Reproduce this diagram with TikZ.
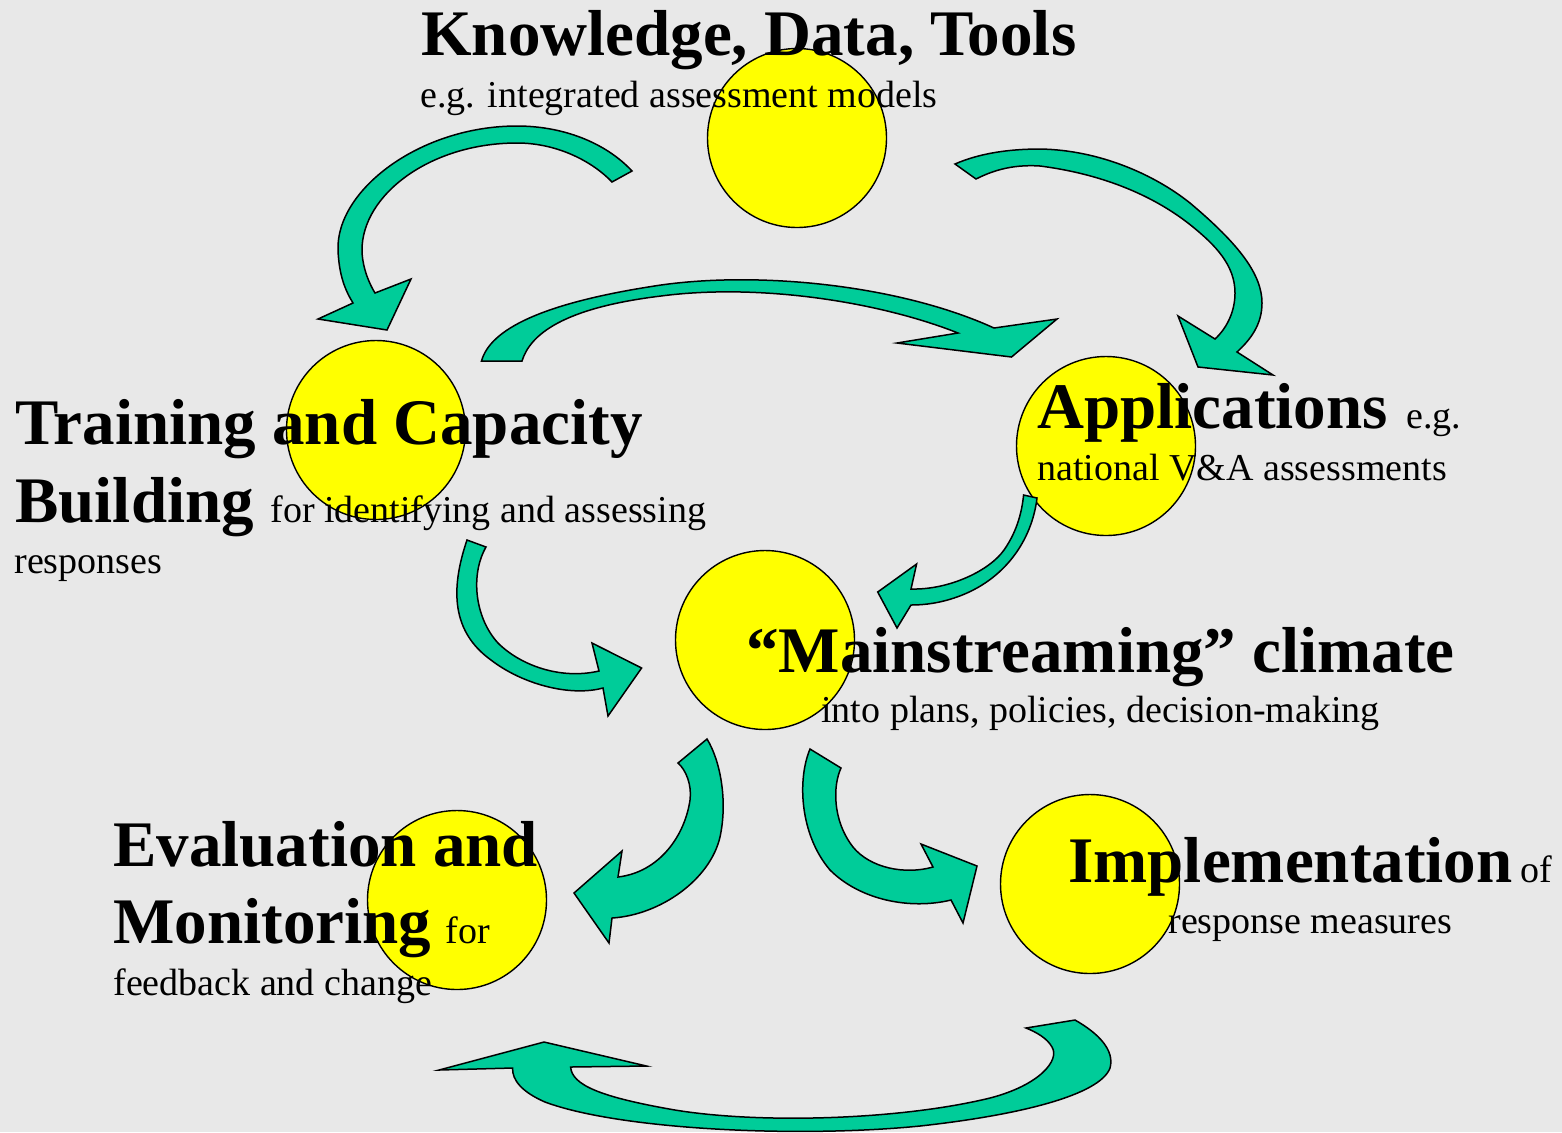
\documentclass[tikz,border=0pt]{standalone}
\usepackage{fontspec}
\setmainfont{Liberation Serif}
\definecolor{bgc}{HTML}{E8E8E8}
\definecolor{arrg}{HTML}{00CC99}
\definecolor{ball}{HTML}{FFFF00}
\tikzset{
  ballnode/.style={circle, draw=black, fill=ball, line width=0.7pt, minimum size=89.5pt, inner sep=0pt},
  blockarrow/.style={draw=black, fill=arrg, line width=0.75pt, line join=miter},
  bigtxt/.style={anchor=base west, inner sep=0pt, font=\fontsize{32.5}{39}\selectfont\bfseries},
  smalltxt/.style={anchor=base west, inner sep=0pt, font=\fontsize{19}{23}\selectfont},
}
\begin{document}
\begin{tikzpicture}[x=0.5pt, y=-0.5pt]
\useasboundingbox (0,0) rectangle (1562,1132);
\clip (0,0) rectangle (1562,1132);
\fill[bgc] (0,0) rectangle (1562,1132);

% circles
\node[ballnode] (know) at (797,138) {};
\node[ballnode] (train) at (376,430) {};
\node[ballnode] (appl) at (1106,446) {};
\node[ballnode] (main) at (765,640) {};
\node[ballnode] (eval) at (457,900) {};
\node[ballnode] (impl) at (1090,884) {};

% arrow 1: Knowledge -> Training
\filldraw[blockarrow] (632,171) .. controls (605,142) and (562,126) .. (517,126)
  .. controls (420,126) and (336,190) .. (338,250)
  .. controls (339,275) and (345,290) .. (353,303)
  -- (318,319) -- (387,330) -- (411,279) -- (375,293)
  .. controls (366,278) and (362,262) .. (362,250)
  .. controls (362,195) and (430,143) .. (517,143)
  .. controls (558,143) and (593,162) .. (612,182) -- cycle;

% arrow 2: Knowledge -> Applications
\filldraw[blockarrow] (955,164) .. controls (980,153) and (1010,149) .. (1040,149)
  .. controls (1100,150) and (1155,175) .. (1190,203)
  .. controls (1240,245) and (1262,275) .. (1262,303)
  .. controls (1262,325) and (1250,340) .. (1237,352)
  -- (1273,375) -- (1198,367) -- (1178,316) -- (1215,339)
  .. controls (1228,327) and (1235,310) .. (1235,293)
  .. controls (1235,265) and (1215,245) .. (1193,227)
  .. controls (1160,200) and (1110,175) .. (1040,166)
  .. controls (1010,164) and (990,172) .. (976,179) -- cycle;

% arrow 3: Training -> Applications
\filldraw[blockarrow] (481.5,361) .. controls (490,330) and (540,303) .. (661,285)
  .. controls (760,271) and (900,285) .. (994,328)
  -- (1057,319) -- (1011.5,357) -- (897,343) -- (958,333)
  .. controls (880,302) and (760,283) .. (661,296)
  .. controls (562,308) and (530,335) .. (522,361) -- cycle;

% arrow 4: Training -> Mainstreaming
\filldraw[blockarrow] (467,540) .. controls (450,590) and (452,632) .. (491,660)
  .. controls (522,684) and (570,697) .. (603,688)
  -- (608,716) -- (641.6,668) -- (592,643) -- (599,671)
  .. controls (560,680) and (520,665) .. (498,643)
  .. controls (475,618) and (470,575) .. (486,547) -- cycle;

% arrow 5: Applications -> Mainstreaming
\filldraw[blockarrow] (1037,498) .. controls (1032,540) and (1005,580) .. (957,597)
  .. controls (940,603) and (925,605) .. (911,605)
  -- (897,628) -- (877.7,592) -- (916.6,564) -- (911,589)
  .. controls (950,590) and (990,570) .. (1004,550)
  .. controls (1018,530) and (1022,510) .. (1023.6,495) -- cycle;

% arrow 6: Mainstreaming -> Evaluation
\filldraw[blockarrow] (707,739) .. controls (720,760) and (728,800) .. (720,837)
  .. controls (710,880) and (660,915) .. (612,918)
  -- (609,943) -- (574,893) -- (622,851) -- (618,877)
  .. controls (660,872) and (685,835) .. (690,800)
  .. controls (692,785) and (686,770) .. (678,763) -- cycle;

% arrow 7: Mainstreaming -> Implementation
\filldraw[blockarrow] (810,749) -- (841,768)
  .. controls (833,785) and (832,820) .. (853,847)
  .. controls (870,868) and (905,875) .. (933,867)
  -- (921,844) -- (977,866) -- (963,923) -- (951,900)
  .. controls (910,910) and (860,900) .. (830,870)
  .. controls (800,835) and (797,780) .. (810,749) -- cycle;

% arrow 8: Implementation -> Evaluation (bottom)
\filldraw[blockarrow] (1075,1020) .. controls (1098,1033) and (1115,1050) .. (1110,1068)
  .. controls (1100,1095) and (1020,1115) .. (920,1126)
  .. controls (800,1138) and (620,1130) .. (545,1102)
  .. controls (522,1092) and (512,1080) .. (512.6,1068)
  -- (439,1070) -- (544,1042) -- (646.5,1066) -- (570.6,1067)
  .. controls (572,1085) and (600,1097) .. (675,1110)
  .. controls (760,1124) and (900,1120) .. (990,1098)
  .. controls (1040,1085) and (1060,1060) .. (1052,1047)
  .. controls (1047,1038) and (1036,1032) .. (1026,1028) -- cycle;

% texts
\node[bigtxt] (t1) at (421,55) {Knowledge, Data, Tools};
\node[smalltxt] (t1s) at (420,107) {e.g. integrated assessment models};

\node[bigtxt] (t2) at (15,444) {Training and Capacity};
\node[bigtxt] (t2b) at (15,522) {Building};
\node[smalltxt] (t2s) at (270,522) {for identifying and assessing};
\node[smalltxt] (t2r) at (14,573) {responses};

\node[bigtxt] (t3) at (1037,428) {Applications};
\node[smalltxt] (t3e) at (1406,428) {e.g.};
\node[smalltxt] (t3s) at (1037,480) {national V\&A assessments};

\node[bigtxt] (t4) at (746,672) {“Mainstreaming” climate};
\node[smalltxt] (t4s) at (821,722) {into plans, policies, decision-making};

\node[bigtxt] (t5) at (113,866) {Evaluation and};
\node[bigtxt] (t5b) at (113,943) {Monitoring};
\node[smalltxt] (t5f) at (445,943) {for};
\node[smalltxt] (t5s) at (113,995) {feedback and change};

\node[bigtxt] (t6) at (1068,882) {Implementation};
\node[smalltxt] (t6o) at (1520,882) {of};
\node[smalltxt] (t6s) at (1168,933) {response measures};
\end{tikzpicture}
\end{document}
